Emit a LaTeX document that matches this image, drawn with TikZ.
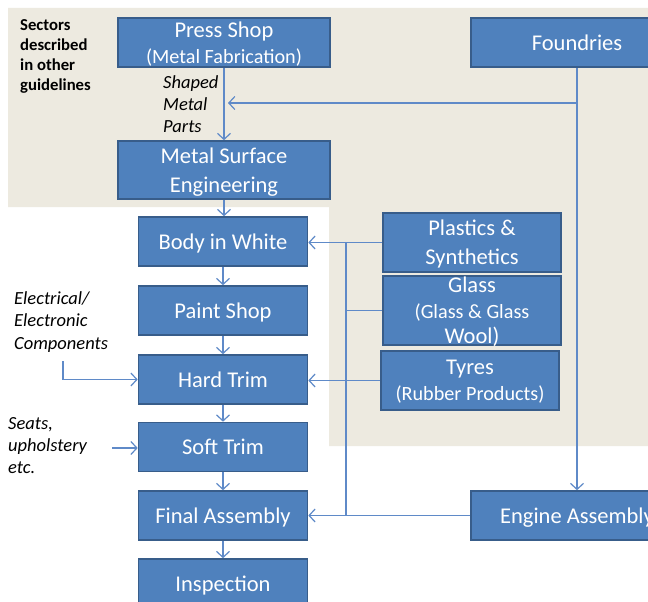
\documentclass[tikz,border=0pt]{standalone}
\usepackage{fontspec}
\setmainfont{Carlito}
\usetikzlibrary{arrows.meta}
\definecolor{boxfill}{RGB}{79,129,189}
\definecolor{boxline}{RGB}{56,93,138}
\definecolor{linecol}{RGB}{95,138,200}
\definecolor{beige}{RGB}{237,234,224}
\begin{document}
\begin{tikzpicture}[x=1pt,y=-1pt,
  box/.style={draw=boxline, fill=boxfill, line width=1.6pt, text=white, align=center, inner sep=0pt, text depth=0pt, font=\fontsize{22.5}{25}\selectfont},
  conn/.style={draw=linecol, line width=1.2pt},
  arr/.style={conn, -{Straight Barb[length=6pt,width=13pt]}},
  note/.style={align=left, inner sep=0pt, anchor=north west, text=black}]
\useasboundingbox (0,0) rectangle (648,602);
\begin{scope}
\clip (0,0) rectangle (648,602);
\fill[white] (0,0) rectangle (648,602);
\fill[beige] (8,8) -- (660,8) -- (660,446) -- (329,446) -- (329,207) -- (8,207) -- cycle;

% main column
\node[box, minimum width=212, minimum height=49, font=\fontsize{22.5}{26}\selectfont] (press) at (224,42.5) {Press Shop\\\fontsize{20.2}{26}\selectfont(Metal Fabrication)};
\node[box, minimum width=212, minimum height=58, font=\fontsize{22.5}{29}\selectfont] (mse) at (224,170) {Metal Surface\\Engineering};
\node[box, minimum width=212, minimum height=49] (found) at (577,42.5) {Foundries};
\node[box, minimum width=169, minimum height=49] (biw) at (223,241.5) {Body in White};
\node[box, minimum width=169, minimum height=49] (paint) at (223,310.5) {Paint Shop};
\node[box, minimum width=169, minimum height=49] (hard) at (223,379.5) {Hard Trim};
\node[box, minimum width=169, minimum height=49] (soft) at (223,447) {Soft Trim};
\node[box, minimum width=169, minimum height=49] (final) at (223,515.5) {Final Assembly};
\node[box, minimum width=169, minimum height=49] (insp) at (223,583.5) {Inspection};
\node[box, minimum width=178, minimum height=59, font=\fontsize{22.5}{29}\selectfont] (plast) at (472,242.5) {Plastics \&\\Synthetics};
\node[box, minimum width=178, minimum height=69, font=\fontsize{22.5}{25.5}\selectfont] (glass) at (472,310.5) {Glass\\\fontsize{20.2}{25.5}\selectfont(Glass \& Glass\\Wool)};
\node[box, minimum width=178, minimum height=59, font=\fontsize{22.5}{26}\selectfont] (tyres) at (470,380.5) {Tyres\\\fontsize{20.2}{26}\selectfont(Rubber Products)};
\node[box, minimum width=212, minimum height=49] (engine) at (577,515.5) {Engine Assembly};

% notes
\node[note, font=\bfseries\fontsize{16.7}{20}\selectfont] (sectors) at (20,19) {Sectors\\described\\in other\\guidelines};
\node[note, font=\itshape\fontsize{18.5}{22}\selectfont] (shaped) at (163,75) {Shaped\\Metal\\Parts};
\node[note, font=\itshape\fontsize{18.5}{22.5}\selectfont] (elec) at (14,291) {Electrical/\\Electronic\\Components};
\node[note, font=\itshape\fontsize{18.5}{22}\selectfont] (seats) at (8,417) {Seats,\\upholstery\\etc.};

% connectors
\draw[arr] (press) -- (mse);
\draw[arr] (found) -- (engine);
\coordinate (fj) at (577,103);
\coordinate (pm) at (224,103);
\draw[arr, shorten >=4pt] (fj) -- (pm);
\draw[arr] (mse.south) -- (mse.south |- biw.north);
\draw[arr] (biw) -- (paint);
\draw[arr] (paint) -- (hard);
\draw[arr] (hard) -- (soft);
\draw[arr] (soft) -- (final);
\draw[arr] (final) -- (insp);

\draw[arr] (plast.west) -- (plast.west -| biw.east);
\coordinate (b1) at (346,242.5);
\coordinate (b4) at (346,515.5);
\draw[conn] (b1) -- (b4);
\draw[conn] (glass.west) -- (glass.west -| b1);
\draw[arr] (tyres.west) -- (tyres.west -| hard.east);
\draw[arr] (engine.west) -- (engine.west -| final.east);

\coordinate (ee) at (63,361);
\draw[arr] (ee) |- (hard.west);
\coordinate (st) at (112,448);
\draw[arr] (st) -- (st -| soft.west);
\end{scope}
\end{tikzpicture}
\end{document}
